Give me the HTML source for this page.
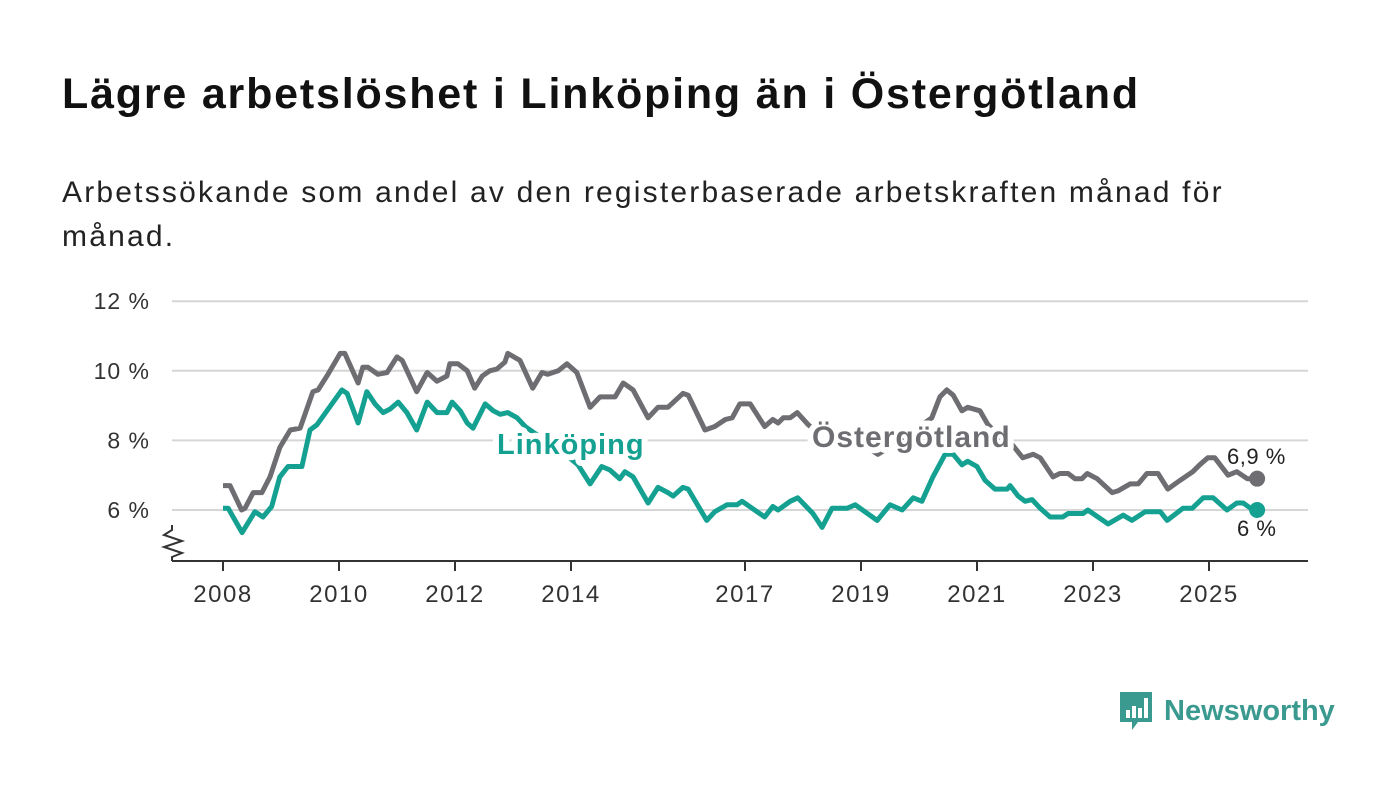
<!DOCTYPE html>
<html><head><meta charset="utf-8"><style>
body{margin:0;width:1400px;height:794px;background:#fff;font-family:"Liberation Sans","DejaVu Sans",sans-serif;overflow:hidden;position:relative}
#title{position:absolute;left:62px;top:70px;font-size:43px;font-weight:bold;color:#111;margin:0;letter-spacing:1.8px;white-space:nowrap}
#sub{position:absolute;left:62px;top:171px;width:1300px;font-size:30px;letter-spacing:2.2px;line-height:44px;color:#222;white-space:nowrap}
#logo{position:absolute;left:1118px;top:690px;display:flex;align-items:center;gap:10px;color:#3a9a8f;font-size:29px;font-weight:bold}
</style></head><body>
<h1 id="title">Lägre arbetslöshet i Linköping än i Östergötland</h1>
<div id="sub">Arbetssökande som andel av den registerbaserade arbetskraften månad för<br>månad.</div>
<svg id="chart" width="1400" height="794" style="position:absolute;left:0;top:0"></svg>
<div id="logo">
<svg width="36" height="42" viewBox="0 0 36 42"><path d="M2 2h32v30H20l-6 8v-8H2z" fill="#3a9a8f"/><rect x="8" y="20" width="4" height="8" fill="#fff"/><rect x="14" y="16" width="4" height="12" fill="#fff"/><rect x="20" y="18" width="4" height="10" fill="#fff"/><rect x="26" y="8" width="4" height="20" fill="#fff"/></svg>
<span>Newsworthy</span></div>
<script>
const tickYears=[2008,2010,2012,2014,2017,2019,2021,2023,2025];
const yTicks=[6,8,10,12];
const ostT=[2008.0,2008.12,2008.32,2008.38,2008.52,2008.67,2008.81,2008.98,2009.16,2009.33,2009.55,2009.64,2009.81,2010.02,2010.1,2010.33,2010.41,2010.5,2010.67,2010.83,2011.0,2011.09,2011.34,2011.52,2011.69,2011.86,2011.91,2012.05,2012.21,2012.34,2012.47,2012.6,2012.72,2012.86,2012.91,2013.12,2013.34,2013.5,2013.6,2013.78,2013.93,2014.1,2014.33,2014.5,2014.76,2014.9,2015.07,2015.33,2015.5,2015.67,2015.93,2016.02,2016.31,2016.48,2016.66,2016.78,2016.91,2017.09,2017.34,2017.48,2017.57,2017.66,2017.78,2017.9,2018.09,2018.29,2018.72,2019.02,2019.29,2019.59,2019.93,2020.22,2020.36,2020.48,2020.59,2020.74,2020.84,2021.05,2021.19,2021.4,2021.62,2021.79,2021.97,2022.09,2022.31,2022.43,2022.57,2022.69,2022.81,2022.9,2023.07,2023.33,2023.43,2023.64,2023.78,2023.93,2024.12,2024.29,2024.5,2024.72,2024.84,2024.98,2025.1,2025.33,2025.48,2025.66,2025.83];
const ostV=[6.7,6.7,6.0,6.05,6.5,6.5,6.95,7.8,8.3,8.35,9.4,9.45,9.9,10.5,10.5,9.65,10.1,10.1,9.9,9.95,10.4,10.3,9.4,9.95,9.7,9.85,10.2,10.2,10.0,9.5,9.85,10.0,10.05,10.25,10.5,10.3,9.5,9.95,9.9,10.0,10.2,9.95,8.95,9.25,9.25,9.65,9.45,8.65,8.95,8.95,9.35,9.3,8.3,8.4,8.6,8.65,9.05,9.05,8.4,8.6,8.5,8.65,8.65,8.8,8.45,8.2,8.0,7.9,7.6,7.9,8.3,8.65,9.25,9.45,9.3,8.85,8.95,8.85,8.45,8.1,7.85,7.5,7.6,7.5,6.95,7.05,7.05,6.9,6.9,7.05,6.9,6.5,6.55,6.75,6.75,7.05,7.05,6.6,6.85,7.1,7.3,7.5,7.5,7.0,7.1,6.9,6.9];
const linT=[2008.0,2008.09,2008.33,2008.55,2008.69,2008.84,2008.98,2009.12,2009.36,2009.5,2009.62,2009.9,2010.05,2010.14,2010.33,2010.48,2010.62,2010.76,2010.88,2011.02,2011.17,2011.34,2011.52,2011.69,2011.86,2011.95,2012.09,2012.21,2012.31,2012.52,2012.66,2012.78,2012.91,2013.07,2013.21,2013.55,2013.9,2014.12,2014.33,2014.53,2014.67,2014.84,2014.93,2015.07,2015.33,2015.5,2015.67,2015.76,2015.93,2016.02,2016.34,2016.48,2016.69,2016.86,2016.95,2017.34,2017.48,2017.57,2017.78,2017.91,2018.17,2018.33,2018.5,2018.76,2018.9,2019.28,2019.5,2019.71,2019.9,2020.05,2020.24,2020.45,2020.59,2020.74,2020.84,2021.0,2021.14,2021.31,2021.52,2021.57,2021.71,2021.83,2021.95,2022.09,2022.26,2022.48,2022.57,2022.83,2022.91,2023.26,2023.52,2023.67,2023.9,2024.16,2024.28,2024.55,2024.71,2024.9,2025.07,2025.31,2025.48,2025.59,2025.76,2025.83];
const linV=[6.05,6.05,5.35,5.95,5.8,6.1,6.95,7.25,7.25,8.3,8.45,9.1,9.45,9.35,8.5,9.4,9.05,8.8,8.9,9.1,8.8,8.3,9.1,8.8,8.8,9.1,8.85,8.5,8.35,9.05,8.85,8.75,8.8,8.65,8.4,8.0,7.6,7.3,6.75,7.25,7.15,6.9,7.1,6.95,6.2,6.65,6.5,6.4,6.65,6.6,5.7,5.95,6.15,6.15,6.25,5.8,6.1,6.0,6.25,6.35,5.9,5.5,6.05,6.05,6.15,5.7,6.15,6.0,6.35,6.25,6.95,7.6,7.6,7.3,7.4,7.25,6.85,6.6,6.6,6.7,6.4,6.25,6.3,6.05,5.8,5.8,5.9,5.9,6.0,5.6,5.85,5.7,5.95,5.95,5.7,6.05,6.05,6.35,6.35,6.0,6.2,6.2,6.0,6.0];
const endLabels=["6,9 %","6 %"];
const NS="http://www.w3.org/2000/svg";
const svg=document.getElementById('chart');
const xs=t=>223+(t-2008)*58;
const ys=v=>510-(v-6)*34.8;
function mk(tag,attrs,parent){const e=document.createElementNS(NS,tag);for(const k in attrs)e.setAttribute(k,attrs[k]);(parent||svg).appendChild(e);return e;}
yTicks.forEach(v=>{
  const g=mk('line',{x1:172,x2:1308,y1:ys(v),y2:ys(v),stroke:'#d6d6d6','stroke-width':2});
  
  
  const t=mk('text',{x:150,y:ys(v)+8,'text-anchor':'end','font-size':23,'letter-spacing':1,fill:'#333'});
  t.textContent=v+' %';
  
  
});
const ax=mk('line',{x1:172,x2:1308,y1:561,y2:561,stroke:'#333','stroke-width':2});


const brk=mk('path',{d:'M172 525 L172 530 L164 535 L182 541 L164 547 L182 553 L172 557 L172 561',fill:'none',stroke:'#333','stroke-width':2});


tickYears.forEach(y=>{
  const tk=mk('line',{x1:xs(y),x2:xs(y),y1:561,y2:571,stroke:'#333','stroke-width':2});
  
  
  const t=mk('text',{x:xs(y),y:602,'text-anchor':'middle','font-size':24,'letter-spacing':1.5,fill:'#333'});
  t.textContent=y;
  
  
});
function line(T,V,col,name){
  const d=T.map((t,i)=>(i?'L':'M')+xs(t).toFixed(1)+' '+ys(V[i]).toFixed(1)).join(' ');
  const p=mk('path',{d:d,fill:'none',stroke:col,'stroke-width':5,'stroke-linejoin':'round'});
  
  
  const c=mk('circle',{cx:xs(T[T.length-1]),cy:ys(V[V.length-1]),r:8,fill:col});
  
  
}
line(ostT,ostV,'#6d6d72','ostergotland-line');
line(linT,linV,'#15a191','linkoping-line');
function lab(txt,x,y,col,size,weight,name,halo,ls){
  const t=mk('text',{x:x,y:y,'font-size':size,'font-weight':weight,'letter-spacing':ls,fill:col,stroke:'#fff','stroke-width':halo,'paint-order':'stroke','stroke-linejoin':'round'});
  t.textContent=txt;
  
  
}
lab('Linköping',497,454,'#15a191',29,'bold','linkoping-label',12,1);
lab('Östergötland',812,447,'#6d6d72',30,'bold','ostergotland-label',12,1);
lab(endLabels[0],1227,464,'#222',22,'normal','ostergotland-end-value',6,0.5);
lab(endLabels[1],1237,536,'#222',22,'normal','linkoping-end-value',6,0.5);
</script>
</body></html>
